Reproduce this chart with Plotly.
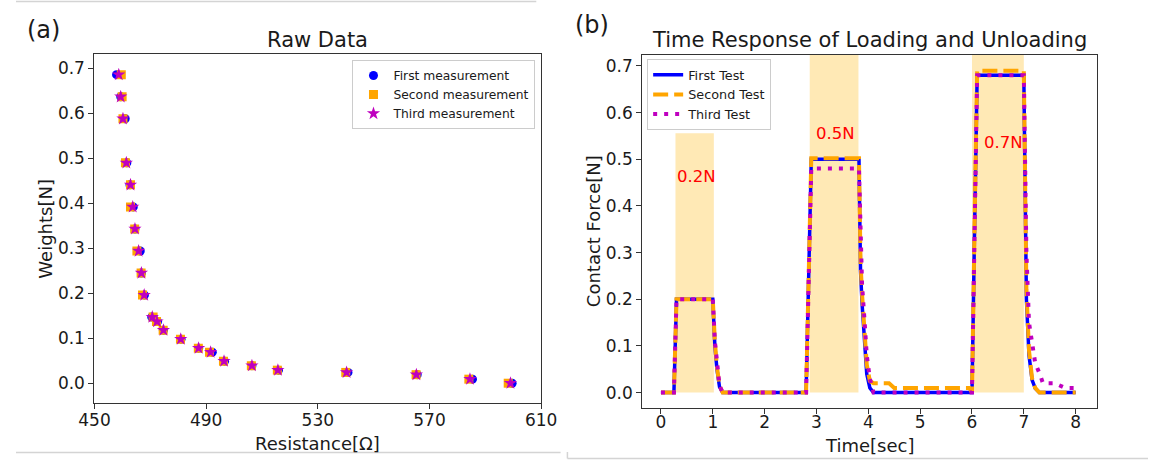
import plotly.graph_objects as go

W, H = 1164, 462

# ---------------- data: panel (a) raw data ----------------
weights = [0.686, 0.637, 0.588, 0.49, 0.441, 0.392, 0.343, 0.294, 0.245, 0.196, 0.147,
           0.137, 0.118, 0.098, 0.078, 0.069, 0.049, 0.039, 0.029, 0.024, 0.019, 0.009, 0.0]
res_first = [457.9, 459.4, 461.0, 461.6, 462.7, 463.9, 464.5, 466.4, 466.8, 467.9, 470.5,
             472.6, 474.7, 481.0, 487.3, 492.2, 496.6, 506.4, 515.9, 540.8, 565.6, 585.4, 599.6]
res_second = [459.6, 459.9, 460.2, 461.1, 462.9, 462.9, 464.4, 465.2, 466.7, 467.2, 471.0,
              472.2, 474.6, 480.8, 487.2, 491.2, 496.2, 506.2, 515.5, 540.0, 565.2, 584.1, 598.2]
res_third = [458.7, 459.4, 460.2, 461.4, 462.9, 463.7, 464.5, 465.8, 466.8, 467.8, 470.7,
             472.4, 474.7, 480.9, 487.3, 491.6, 496.4, 506.4, 515.7, 540.3, 565.3, 584.5, 599.0]
res_ticks = [450, 490, 530, 570, 610]
weight_ticks = [0.0, 0.1, 0.2, 0.3, 0.4, 0.5, 0.6, 0.7]

# ---------------- data: panel (b) time response ----------------
time_s = [0.0, 0.25, 0.3, 1.0, 1.04, 1.08, 1.13, 1.19, 2.8, 2.85, 2.9, 3.82, 3.85, 3.88,
          3.93, 3.97, 4.03, 4.1, 4.4, 4.5, 5.95, 6.0, 6.05, 6.1, 7.0, 7.05, 7.1, 7.16,
          7.22, 7.3, 7.37, 7.6, 7.8, 8.0]
force_first = [0, 0, 0.2, 0.2, 0.1, 0.05, 0.012, 0, 0, 0.25, 0.5, 0.5, 0.26, 0.19,
               0.11, 0.04, 0.01, 0, 0, 0, 0, 0, 0.35, 0.68, 0.68, 0.2, 0.08, 0.027,
               0.009, 0, 0, 0, 0, 0]
force_second = [0, 0, 0.2, 0.2, 0.11, 0.055, 0.015, 0, 0, 0.25, 0.502, 0.502, 0.28, 0.21,
                0.13, 0.06, 0.025, 0.02, 0.02, 0.01, 0.01, 0, 0.36, 0.69, 0.69, 0.22, 0.09,
                0.03, 0.01, 0, 0, 0, 0, 0]
force_third = [0, 0, 0.2, 0.2, 0.11, 0.06, 0.015, 0, 0, 0.24, 0.48, 0.48, 0.3, 0.23,
               0.15, 0.08, 0.03, 0, 0, 0, 0, 0, 0.34, 0.68, 0.68, 0.3, 0.15, 0.105,
               0.063, 0.042, 0.02, 0.02, 0.01, 0.01]
time_ticks = [0, 1, 2, 3, 4, 5, 6, 7, 8]
force_ticks = [0.0, 0.1, 0.2, 0.3, 0.4, 0.5, 0.6, 0.7]

load_start = [0.28, 2.87, 6.0]
load_end = [1.02, 3.81, 7.0]
load_top = [0.556, 0.75, 0.75]
load_labels = ["0.2N", "0.5N", "0.7N"]
label_x = [0.265, 2.955, 6.19]
label_y = [0.464, 0.556, 0.537]

FONT = "DejaVu Sans"
TXT = "#1a1a1a"
Y2_TOP = 0.7235


def px_x(p):
    return p / W


def px_y(p):
    return 1 - p / H


fig = go.Figure()

# panel (a) scatter
fig.add_trace(go.Scatter(x=res_first, y=weights, mode="markers", name="First measurement",
                         marker=dict(symbol="circle", size=9, color="#0000ff"),
                         xaxis="x", yaxis="y", legend="legend"))
fig.add_trace(go.Scatter(x=res_second, y=weights, mode="markers", name="Second measurement",
                         marker=dict(symbol="square", size=9, color="#ffa500"),
                         xaxis="x", yaxis="y", legend="legend"))
fig.add_trace(go.Scatter(x=res_third, y=weights, mode="markers", name="Third measurement",
                         marker=dict(symbol="star", size=10, color="#bf00bf"),
                         xaxis="x", yaxis="y", legend="legend"))

# panel (b) lines
fig.add_trace(go.Scatter(x=time_s, y=force_first, mode="lines", name="First Test",
                         line=dict(color="#0000ff", width=3.5),
                         xaxis="x2", yaxis="y2", legend="legend2"))
fig.add_trace(go.Scatter(x=time_s, y=force_second, mode="lines", name="Second Test",
                         line=dict(color="#ffa500", width=4, dash="15px,6px"),
                         xaxis="x2", yaxis="y2", legend="legend2"))
fig.add_trace(go.Scatter(x=time_s, y=force_third, mode="lines", name="Third Test",
                         line=dict(color="#bf00bf", width=4, dash="4px,7px"),
                         xaxis="x2", yaxis="y2", legend="legend2"))

shapes = []
for s, e, top in zip(load_start, load_end, load_top):
    shapes.append(dict(type="rect", xref="x2", yref="y2", x0=s, x1=e, y0=0, y1=min(top, Y2_TOP),
                       fillcolor="#ffe9b5", line=dict(width=0), layer="below"))

# faint panel borders from the source screenshot
border = "#d4d4d4"
shapes.append(dict(type="line", xref="paper", yref="paper", x0=0, x1=px_x(535),
                   y0=px_y(1.5), y1=px_y(1.5), line=dict(color=border, width=1.5)))
shapes.append(dict(type="line", xref="paper", yref="paper", x0=0, x1=px_x(560),
                   y0=px_y(452.5), y1=px_y(452.5), line=dict(color=border, width=1.5)))
shapes.append(dict(type="line", xref="paper", yref="paper", x0=px_x(567), x1=1,
                   y0=px_y(458.5), y1=px_y(458.5), line=dict(color=border, width=1.5)))
shapes.append(dict(type="line", xref="paper", yref="paper", x0=px_x(567), x1=px_x(567),
                   y0=px_y(452), y1=px_y(458.5), line=dict(color=border, width=1.5)))

annotations = []
for lab, lx, ly in zip(load_labels, label_x, label_y):
    annotations.append(dict(text=lab, x=lx, y=ly, xref="x2", yref="y2", xanchor="left",
                            yanchor="middle", showarrow=False,
                            font=dict(family=FONT, size=16.5, color="#ff0000")))


def ann(text, x, y, size, angle=0):
    return dict(text=text, x=px_x(x), y=px_y(y), xref="paper", yref="paper",
                xanchor="center", yanchor="middle", showarrow=False, textangle=angle,
                font=dict(family=FONT, size=size, color=TXT))


annotations += [
    ann("(a)", 28, 30, 24),
    ann("(b)", 592, 25, 24),
    ann("Raw Data", 310.4, 40, 21),
    ann("Time Response of Loading and Unloading", 878, 40, 21),
    ann("Weights[N]", 30, 228.5, 18, -90),
    ann("Resistance[Ω]", 310.4, 443, 18),
    ann("Contact Force[N]", 594, 231.5, 18, -90),
    ann("Time[sec]", 878, 445, 18),
]

axis_common = dict(showline=True, mirror=True, linecolor="#333333", linewidth=1.3,
                   ticks="outside", ticklen=5, tickwidth=1.2, tickcolor="#333333",
                   showgrid=False, zeroline=False,
                   tickfont=dict(family=FONT, size=17, color=TXT))

fig.update_layout(
    width=W, height=H, margin=dict(l=0, r=0, t=0, b=0),
    paper_bgcolor="white", plot_bgcolor="white",
    font=dict(family=FONT, color=TXT),
    xaxis=dict(domain=[px_x(80.7), px_x(540)], range=[450, 610], tickvals=res_ticks,
               anchor="y", ticklabelstandoff=-4, **axis_common),
    yaxis=dict(domain=[px_y(403), px_y(54)], range=[-0.044, 0.732], tickvals=weight_ticks,
               tickformat=".1f", anchor="x", **axis_common),
    xaxis2=dict(domain=[px_x(644), px_x(1112)], range=[-0.36, 8.42], tickvals=time_ticks,
                anchor="y2", ticklabelstandoff=-7, **axis_common),
    yaxis2=dict(domain=[px_y(408), px_y(55)], range=[-0.033, Y2_TOP], tickvals=force_ticks,
                tickformat=".1f", anchor="x2", **axis_common),
    legend=dict(x=px_x(346), y=px_y(60), xanchor="left", yanchor="top",
                bgcolor="rgba(255,255,255,0.85)", bordercolor="#cccccc", borderwidth=1,
                font=dict(family=FONT, size=12.3, color=TXT)),
    legend2=dict(x=px_x(649), y=px_y(59), xanchor="left", yanchor="top",
                 bgcolor="rgba(255,255,255,0.85)", bordercolor="#cccccc", borderwidth=1,
                 font=dict(family=FONT, size=12.8, color=TXT)),
    shapes=shapes,
    annotations=annotations,
)

fig.write_html("out.html")
